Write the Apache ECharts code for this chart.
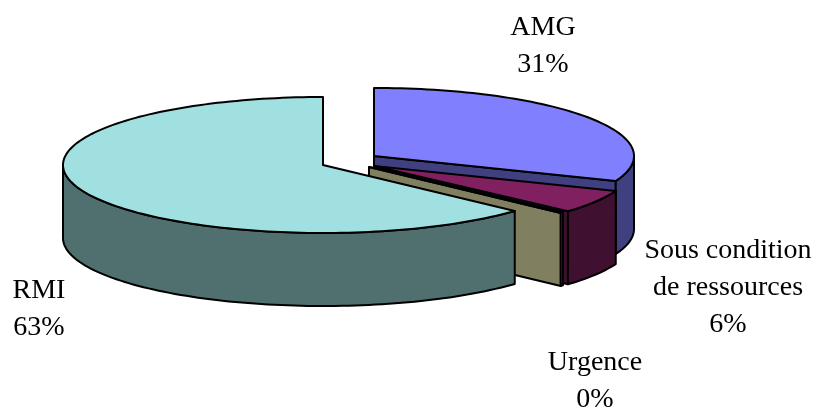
<!DOCTYPE html>
<html>
<head>
<meta charset="utf-8">
<style>html,body{margin:0;padding:0;background:#fff}#chart{width:817px;height:410px}</style>
<script src="https://cdn.jsdelivr.net/npm/echarts@6/dist/echarts.min.js"></script>
</head>
<body>
<div id="chart"></div>
<script>
// Slices, clockwise from twelve o'clock
const categories = ['AMG', 'Sous condition\nde ressources', 'Urgence', 'RMI'];
const values = [31, 5.6, 0.2, 63.2];

// Colours of the top face and of the side faces
const topColors = ['#8080FF', '#802060', '#FFFFC8', '#A0E0E0'];
const sideColors = ['#404080', '#401030', '#808060', '#507070'];

// Apex of each slice and the anchor of its label, in pixels
const apexX = [374, 374, 369, 323];
const apexY = [156, 166, 167, 165];
const labelX = [543, 728, 595, 39];
const labelY = [46, 288, 381, 309];

// Ellipse radii and extrusion height of the disc
const RX = 260, RY = 68, DEPTH = 73;
const FONT = '28px "Liberation Serif", "Times New Roman", serif';

const total = values.reduce((a, b) => a + b, 0);
const starts = [];
values.reduce((acc, v, i) => { starts[i] = acc; return acc + v; }, 0);

function rim(cx, cy, deg) {
  const r = deg * Math.PI / 180;
  return [cx + RX * Math.sin(r), cy - RY * Math.cos(r)];
}
function arc(cx, cy, from, to) {
  const pts = [];
  const n = Math.max(1, Math.ceil(Math.abs(to - from) / 1.5));
  for (let k = 0; k <= n; k++) pts.push(rim(cx, cy, from + (to - from) * k / n));
  return pts;
}
function face(points, fill) {
  return {
    type: 'polygon',
    shape: { points },
    style: { fill, stroke: '#000', lineWidth: 2, lineJoin: 'round' }
  };
}
function drop(pts) {
  return pts.map(p => [p[0], p[1] + DEPTH]).reverse();
}

function renderSlice(params, api) {
  const i = api.value(0);
  const cx = apexX[i], cy = apexY[i];
  const a0 = starts[i] / total * 360;
  const a1 = a0 + values[i] / total * 360;
  const children = [];

  // Cut face at the clockwise end, seen only while it turns to the viewer
  if (a1 > 0 && a1 < 180) {
    const e = rim(cx, cy, a1);
    children.push(face([[cx, cy], e, [e[0], e[1] + DEPTH], [cx, cy + DEPTH]], sideColors[i]));
  }
  // Outer wall: only the front half of the rim is visible
  const w0 = Math.max(a0, 90), w1 = Math.min(a1, 270);
  if (w1 > w0) {
    const top = arc(cx, cy, w0, w1);
    children.push(face(top.concat(drop(top)), sideColors[i]));
  }
  // Top face
  children.push(face([[cx, cy]].concat(arc(cx, cy, a0, a1)), topColors[i]));
  return { type: 'group', children };
}

function renderLabel(params, api) {
  const i = api.value(0);
  return {
    type: 'text',
    style: {
      text: categories[i] + '\n' + Math.round(values[i] / total * 100) + '%',
      x: labelX[i], y: labelY[i],
      align: 'center', verticalAlign: 'middle',
      font: FONT, lineHeight: 37, fill: '#000'
    }
  };
}

const chart = echarts.init(document.getElementById('chart'));
chart.setOption({
  animation: false,
  backgroundColor: '#fff',
  series: [
    {
      type: 'custom', coordinateSystem: 'none', silent: true,
      renderItem: renderSlice, z: 1,
      data: values.map((v, i) => [i, v])
    },
    {
      type: 'custom', coordinateSystem: 'none', silent: true,
      renderItem: renderLabel, z: 2,
      data: values.map((v, i) => [i, v])
    }
  ]
});
</script>
</body>
</html>
